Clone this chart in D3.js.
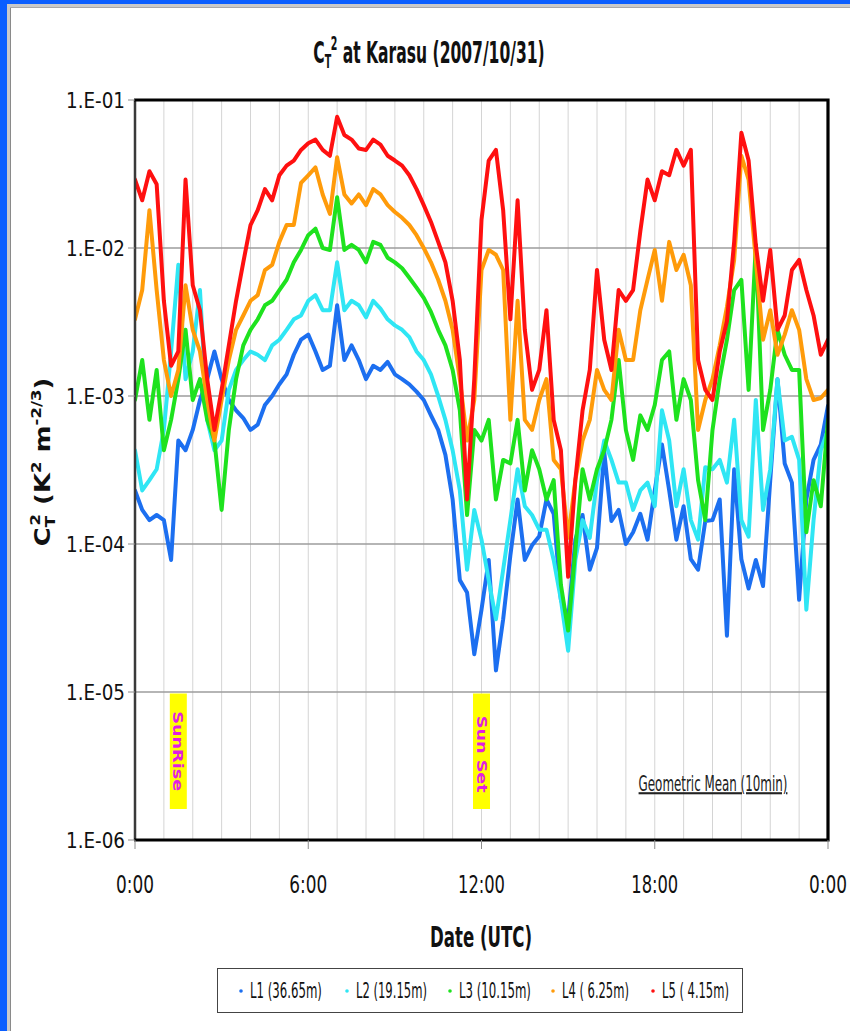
<!DOCTYPE html>
<html><head><meta charset="utf-8">
<script src="https://cdn.jsdelivr.net/npm/d3@7"></script>
<style>
html,body{margin:0;padding:0;background:#fff;}
svg{display:block;}
</style></head><body>
<svg id="c" width="850" height="1031"></svg>
<script>
// ---------------- DATA ----------------
const times = [0,0.25,0.5,0.75,1,1.25,1.5,1.75,2,2.25,2.5,2.75,3,3.25,3.5,3.75,
 4,4.25,4.5,4.75,5,5.25,5.5,5.75,6,6.25,6.5,6.75,7,7.25,7.5,7.75,
 8,8.25,8.5,8.75,9,9.25,9.5,9.75,10,10.25,10.5,10.75,11,11.25,11.5,11.75,
 12,12.25,12.5,12.75,13,13.25,13.5,13.75,14,14.25,14.5,14.75,15,15.25,15.5,15.75,
 16,16.25,16.5,16.75,17,17.25,17.5,17.75,18,18.25,18.5,18.75,19,19.25,19.5,19.75,
 20,20.25,20.5,20.75,21,21.25,21.5,21.75,22,22.25,22.5,22.75,23,23.25,23.5,23.75,24];

const seriesNames = ["L1 (36.65m)","L2 (19.15m)","L3 (10.15m)","L4 ( 6.25m)","L5 ( 4.15m)"];

const l1Values = [2.3e-4,1.7e-4,1.45e-4,1.57e-4,1.45e-4,7.8e-5,5.0e-4,4.3e-4,
 5.9e-4,9.4e-4,1.3e-3,2.0e-3,1.3e-3,9.4e-4,8.0e-4,7.1e-4,
 5.9e-4,6.4e-4,8.7e-4,1.0e-3,1.2e-3,1.4e-3,1.9e-3,2.4e-3,
 2.6e-3,2.0e-3,1.5e-3,1.6e-3,4.1e-3,1.75e-3,2.2e-3,1.75e-3,
 1.3e-3,1.6e-3,1.5e-3,1.7e-3,1.4e-3,1.3e-3,1.2e-3,1.07e-3,
 9.4e-4,7.4e-4,5.9e-4,4.0e-4,2.0e-4,5.7e-5,4.7e-5,1.8e-5,
 3.6e-5,7.8e-5,1.4e-5,3.1e-5,8.4e-5,2.0e-4,7.8e-5,9.8e-5,
 1.13e-4,2.0e-4,1.6e-4,4.2e-5,3.1e-5,1.07e-4,1.57e-4,6.7e-5,
 9.4e-5,4.2e-4,1.43e-4,1.7e-4,1.0e-4,1.2e-4,1.6e-4,1.07e-4,
 2.3e-4,4.7e-4,2.3e-4,1.07e-4,1.8e-4,7.9e-5,6.7e-5,1.43e-4,
 1.45e-4,2.0e-4,2.4e-5,3.2e-4,7.9e-5,5.0e-5,7.8e-5,5.2e-5,
 2.7e-4,1.3e-3,3.5e-4,2.6e-4,4.2e-5,2.0e-4,3.7e-4,4.7e-4,
 8.6e-4];

const l2Values = [4.3e-4,2.3e-4,2.7e-4,3.2e-4,5.9e-4,2.0e-3,7.7e-3,1.3e-3,
 2.0e-3,5.2e-3,6.9e-4,4.3e-4,5.0e-4,1.1e-3,1.5e-3,1.75e-3,
 2.0e-3,1.9e-3,1.75e-3,2.2e-3,2.4e-3,2.8e-3,3.3e-3,3.5e-3,
 4.4e-3,4.8e-3,3.8e-3,3.8e-3,8.0e-3,3.8e-3,4.4e-3,4.1e-3,
 3.4e-3,4.4e-3,3.9e-3,3.3e-3,3.0e-3,2.8e-3,2.5e-3,2.0e-3,
 1.75e-3,1.4e-3,1.0e-3,6.9e-4,4.3e-4,2.3e-4,6.7e-5,1.7e-4,
 1.07e-4,5.7e-5,3.1e-5,6.7e-5,1.45e-4,3.2e-4,1.8e-4,1.57e-4,
 1.25e-4,1.25e-4,7.8e-5,4.2e-5,1.9e-5,7.8e-5,1.45e-4,1.1e-4,
 2.7e-4,5.0e-4,3.7e-4,2.6e-4,2.6e-4,1.7e-4,2.3e-4,2.6e-4,
 1.8e-4,8.0e-4,5.0e-4,1.8e-4,3.2e-4,1.45e-4,1.07e-4,3.3e-4,
 3.2e-4,3.7e-4,2.6e-4,6.9e-4,1.45e-4,1.12e-4,9.4e-4,1.7e-4,
 3.2e-4,1.3e-3,5.0e-4,5.3e-4,3.7e-4,3.6e-5,1.45e-4,4.3e-4,
 5.9e-4];

const l3Values = [9.4e-4,1.75e-3,6.9e-4,1.5e-3,4.3e-4,6.9e-4,1.3e-3,2.8e-3,
 9.4e-4,1.3e-3,6.9e-4,5.0e-4,1.7e-4,5.9e-4,1.3e-3,2.2e-3,
 2.8e-3,3.3e-3,4.1e-3,4.4e-3,5.2e-3,6.1e-3,8.0e-3,9.7e-3,
 1.22e-2,1.35e-2,1.0e-2,9.7e-3,2.2e-2,9.7e-3,1.05e-2,9.7e-3,
 8.0e-3,1.1e-2,1.05e-2,8.6e-3,8.0e-3,7.3e-3,6.3e-3,5.4e-3,
 4.6e-3,3.7e-3,2.8e-3,2.2e-3,1.5e-3,8.0e-4,1.57e-4,5.9e-4,
 5.0e-4,6.9e-4,2.0e-4,3.7e-4,3.5e-4,6.9e-4,2.3e-4,4.3e-4,
 3.2e-4,2.0e-4,2.7e-4,5.3e-5,2.6e-5,9.1e-5,3.2e-4,2.0e-4,
 3.2e-4,4.3e-4,6.9e-4,1.75e-3,5.9e-4,3.7e-4,7.4e-4,5.9e-4,
 8.7e-4,1.75e-3,2.0e-3,6.9e-4,1.3e-3,9.4e-4,2.7e-4,1.45e-4,
 5.9e-4,1.3e-3,2.4e-3,5.2e-3,6.1e-3,1.1e-3,1.05e-2,5.9e-4,
 1.1e-3,2.8e-3,1.9e-3,1.5e-3,1.5e-3,1.2e-4,2.7e-4,1.8e-4,
 6.9e-4];

const l4Values = [3.3e-3,5.2e-3,1.8e-2,5.2e-3,1.75e-3,1.0e-3,1.5e-3,5.6e-3,
 2.8e-3,2.0e-3,9.4e-4,5.0e-4,9.4e-4,1.75e-3,2.8e-3,3.5e-3,
 4.4e-3,4.8e-3,7.1e-3,7.7e-3,1.1e-2,1.43e-2,1.43e-2,2.75e-2,
 3.1e-2,3.5e-2,2.3e-2,1.7e-2,4.1e-2,2.3e-2,2.0e-2,2.3e-2,
 1.95e-2,2.5e-2,2.3e-2,1.95e-2,1.75e-2,1.6e-2,1.43e-2,1.22e-2,
 1.0e-2,8.0e-3,6.1e-3,4.4e-3,2.8e-3,1.3e-3,5.0e-4,9.4e-4,
 7.1e-3,9.7e-3,9.0e-3,7.1e-3,6.9e-4,4.4e-3,6.9e-4,5.9e-4,
 9.4e-4,1.3e-3,3.7e-4,3.2e-4,1.1e-4,2.7e-4,5.0e-4,6.9e-4,
 1.5e-3,1.1e-3,9.4e-4,2.8e-3,1.75e-3,1.75e-3,3.8e-3,6.1e-3,
 9.7e-3,4.4e-3,1.1e-2,7.1e-3,9.0e-3,5.6e-3,5.9e-4,9.4e-4,
 1.3e-3,2.2e-3,4.0e-3,8.3e-3,4.2e-2,2.9e-2,8.3e-3,2.4e-3,
 3.8e-3,1.9e-3,2.6e-3,3.8e-3,2.8e-3,1.3e-3,9.4e-4,9.7e-4,
 1.1e-3];

const l5Values = [2.9e-2,2.1e-2,3.3e-2,2.7e-2,4.4e-3,1.6e-3,2.0e-3,2.9e-2,
 5.6e-3,3.8e-3,1.3e-3,5.9e-4,1.1e-3,2.2e-3,4.4e-3,8.0e-3,
 1.43e-2,1.8e-2,2.5e-2,2.1e-2,3.1e-2,3.6e-2,3.9e-2,4.6e-2,
 5.1e-2,5.4e-2,4.6e-2,4.2e-2,7.7e-2,5.8e-2,5.4e-2,4.7e-2,
 4.6e-2,5.4e-2,5.0e-2,4.2e-2,3.9e-2,3.6e-2,3.1e-2,2.5e-2,
 1.95e-2,1.5e-2,1.1e-2,8.0e-3,4.4e-3,1.75e-3,2.0e-4,1.3e-3,
 1.55e-2,3.9e-2,4.6e-2,1.8e-2,3.3e-3,2.1e-2,2.8e-3,1.1e-3,
 1.5e-3,3.8e-3,6.9e-4,4.3e-4,6.0e-5,2.7e-4,8.0e-4,1.5e-3,
 7.1e-3,2.4e-3,1.5e-3,5.2e-3,4.4e-3,5.2e-3,1.3e-2,2.9e-2,
 2.1e-2,3.3e-2,3.1e-2,4.6e-2,3.6e-2,4.6e-2,1.75e-3,1.1e-3,
 9.4e-4,2.0e-3,3.2e-3,1.1e-2,6.0e-2,3.9e-2,1.05e-2,4.4e-3,
 9.7e-3,2.8e-3,3.5e-3,7.1e-3,8.3e-3,5.2e-3,3.5e-3,1.9e-3,
 2.4e-3];

const xTickValues = [0, 6, 12, 18, 24];
const xTickLabels = ["0:00", "6:00", "12:00", "18:00", "0:00"];
const yTickValues = [1e-1, 1e-2, 1e-3, 1e-4, 1e-5, 1e-6];
const yTickLabels = ["1.E-01", "1.E-02", "1.E-03", "1.E-04", "1.E-05", "1.E-06"];
const sunLabels = ["SunRise", "Sun Set"];
const sunHours = [1.5, 12.0];

// ---------------- STYLE / LAYOUT ----------------
const colors = ["#1c6ff0", "#2fe6f4", "#1ee21e", "#ff9b0a", "#ff1010"];
const M = {left: 135, right: 828, top: 100, bottom: 840};
const narrow = "'Liberation Sans Narrow','DejaVu Sans Condensed',Arial,sans-serif";

const svg = d3.select("#c");
svg.append("rect").attr("width", 850).attr("height", 1031).attr("fill", "#fff");

// window frame
svg.append("rect").attr("x", 0).attr("y", 0).attr("width", 850).attr("height", 4).attr("fill", "#0a5eff");
svg.append("rect").attr("x", 0).attr("y", 0).attr("width", 7).attr("height", 1031).attr("fill", "#0a5eff");
svg.append("rect").attr("x", 7).attr("y", 4).attr("width", 843).attr("height", 3).attr("fill", "#c9c9c9");
svg.append("rect").attr("x", 7).attr("y", 4).attr("width", 3).attr("height", 1027).attr("fill", "#c9c9c9");
svg.append("line").attr("x1", 10.5).attr("x2", 10.5).attr("y1", 7).attr("y2", 1031).attr("stroke", "#8a8a8a");
svg.append("line").attr("x1", 10).attr("x2", 850).attr("y1", 7.5).attr("y2", 7.5).attr("stroke", "#a8a8a8");

const x = d3.scaleLinear().domain([0, 24]).range([M.left, M.right]);
const y = d3.scaleLog().domain([1e-6, 1e-1]).range([M.bottom, M.top]);

// grid
const grid = svg.append("g");
grid.selectAll("line.v").data(d3.range(1, 24)).enter().append("line")
  .attr("x1", d => x(d)).attr("x2", d => x(d)).attr("y1", M.top).attr("y2", M.bottom)
  .attr("stroke", "#d4d4d4").attr("stroke-width", 1);
grid.selectAll("line.h").data(yTickValues.slice(1, 5)).enter().append("line")
  .attr("x1", M.left).attr("x2", M.right).attr("y1", d => y(d)).attr("y2", d => y(d))
  .attr("stroke", "#9c9c9c").attr("stroke-width", 1.5);

// sun markers
sunLabels.forEach((lab, i) => {
  const cx = x(sunHours[i]);
  const top = y(1e-5) + 1.5, bot = 809;
  svg.append("rect").attr("x", cx - 8.5).attr("y", top).attr("width", 17).attr("height", bot - top)
    .attr("fill", "#ffff00");
  const g = svg.append("g").attr("transform", `translate(${cx},${(top + bot) / 2 + (i ? 3 : 0)}) rotate(90)`);
  g.append("text").attr("text-anchor", "middle").attr("dominant-baseline", "central")
    .attr("font-family", "'DejaVu Sans',sans-serif").attr("font-size", 14).attr("font-weight", "600")
    .attr("fill", "#e21ee2").attr("textLength", i ? 77 : 80).attr("lengthAdjust", "spacingAndGlyphs")
    .text(lab);
});

// series
const clip = svg.append("clipPath").attr("id", "pc").append("rect")
  .attr("x", M.left).attr("y", M.top).attr("width", M.right - M.left).attr("height", M.bottom - M.top);
const allSeries = [l1Values, l2Values, l3Values, l4Values, l5Values];
const line = d3.line().x((d, i) => x(times[i])).y(d => y(d)).curve(d3.curveLinear);
const sg = svg.append("g").attr("clip-path", "url(#pc)");
allSeries.forEach((vals, k) => {
  sg.append("path").datum(vals).attr("d", line).attr("fill", "none")
    .attr("stroke", colors[k]).attr("stroke-width", 4)
    .attr("stroke-linejoin", "round").attr("stroke-linecap", "round");
});

// plot border
svg.append("line").attr("x1", M.left).attr("x2", M.left).attr("y1", M.top).attr("y2", M.bottom)
  .attr("stroke", "#3a3a3a").attr("stroke-width", 2.5);
svg.append("path").attr("d", `M${M.left - 1},${M.top}H${M.right}V${M.bottom}H${M.left - 1}`)
  .attr("fill", "none").attr("stroke", "#000").attr("stroke-width", 3.2);

// ticks
svg.selectAll("line.yt").data(yTickValues).enter().append("line")
  .attr("x1", M.left - 7).attr("x2", M.left).attr("y1", d => y(d)).attr("y2", d => y(d))
  .attr("stroke", "#8c8c8c").attr("stroke-width", 1);
svg.selectAll("line.xt").data(xTickValues).enter().append("line")
  .attr("x1", d => x(d)).attr("x2", d => x(d)).attr("y1", M.bottom).attr("y2", M.bottom + 9)
  .attr("stroke", "#8c8c8c").attr("stroke-width", 1);

function fit(t, w) {
  const cur = t.node().getComputedTextLength();
  t.attr("transform", `scale(${w / cur},1)`);
}

// y tick labels
yTickLabels.forEach((lab, i) => {
  const g = svg.append("g").attr("transform", `translate(125,${y(yTickValues[i]) + 8})`);
  const t = g.append("text").attr("text-anchor", "end").attr("font-family", narrow)
    .attr("font-size", 22).attr("fill", "#111").text(lab);
  fit(t, 59);
});
// x tick labels
xTickLabels.forEach((lab, i) => {
  const g = svg.append("g").attr("transform", `translate(${x(xTickValues[i])},893)`);
  const t = g.append("text").attr("text-anchor", "middle").attr("font-family", narrow)
    .attr("font-size", 25).attr("fill", "#111").text(lab);
  fit(t, lab.length === 4 ? 38 : 47);
});

// title
{
  const g = svg.append("g").attr("transform", "translate(429,63)");
  const t = g.append("text").attr("text-anchor", "middle").attr("font-family", narrow)
    .attr("font-size", 31).attr("font-weight", "bold").attr("fill", "#111");
  t.append("tspan").text("C");
  t.append("tspan").attr("font-size", 19).attr("dy", 5).text("T");
  t.append("tspan").attr("font-size", 19).attr("dy", -18).attr("dx", -1).text("2");
  t.append("tspan").attr("dy", 13).text(" at Karasu (2007/10/31)");
  fit(t, 232);
}
// x axis title
{
  const g = svg.append("g").attr("transform", "translate(481,947)");
  const t = g.append("text").attr("text-anchor", "middle").attr("font-family", narrow)
    .attr("font-size", 29).attr("font-weight", "bold").attr("fill", "#111").text("Date (UTC)");
  fit(t, 102);
}
// y axis title
{
  const g = svg.append("g").attr("transform", "translate(50,462) rotate(-90)");
  const t = g.append("text").attr("text-anchor", "middle").attr("font-family", "'DejaVu Sans',Verdana,sans-serif")
    .attr("font-size", 22).attr("font-weight", "bold").attr("fill", "#111");
  t.append("tspan").text("C");
  t.append("tspan").attr("font-size", 14).attr("dy", 5).text("T");
  t.append("tspan").attr("font-size", 14).attr("dy", -15).attr("dx", -8).text("2");
  t.append("tspan").attr("dy", 10).text(" (K");
  t.append("tspan").attr("font-size", 14).attr("dy", -9).text("2");
  t.append("tspan").attr("dy", 9).text(" m");
  t.append("tspan").attr("font-size", 14).attr("dy", -9).text("-2/3");
  t.append("tspan").attr("dy", 9).text(")");
  fit(t, 178);
}
// annotation
{
  const g = svg.append("g").attr("transform", "translate(713,791)");
  const t = g.append("text").attr("text-anchor", "middle").attr("font-family", narrow)
    .attr("font-size", 21).attr("font-weight", "500").attr("fill", "#222").attr("text-decoration", "underline")
    .text("Geometric Mean (10min)");
  fit(t, 149);
}

// legend
svg.append("rect").attr("x", 217.5).attr("y", 968.5).attr("width", 525).attr("height", 44)
  .attr("fill", "#fff").attr("stroke", "#444").attr("stroke-width", 1);
const legX = [241, 347, 450, 553, 653];
const legW = [72, 71, 72, 67, 67];
seriesNames.forEach((nm, k) => {
  svg.append("circle").attr("cx", legX[k]).attr("cy", 991).attr("r", 1.8).attr("fill", colors[k]);
  const g = svg.append("g").attr("transform", `translate(${legX[k] + 9},998)`);
  const t = g.append("text").attr("font-family", narrow).attr("font-size", 21)
    .attr("fill", "#111").text(nm);
  fit(t, legW[k]);
});
</script>
</body></html>
